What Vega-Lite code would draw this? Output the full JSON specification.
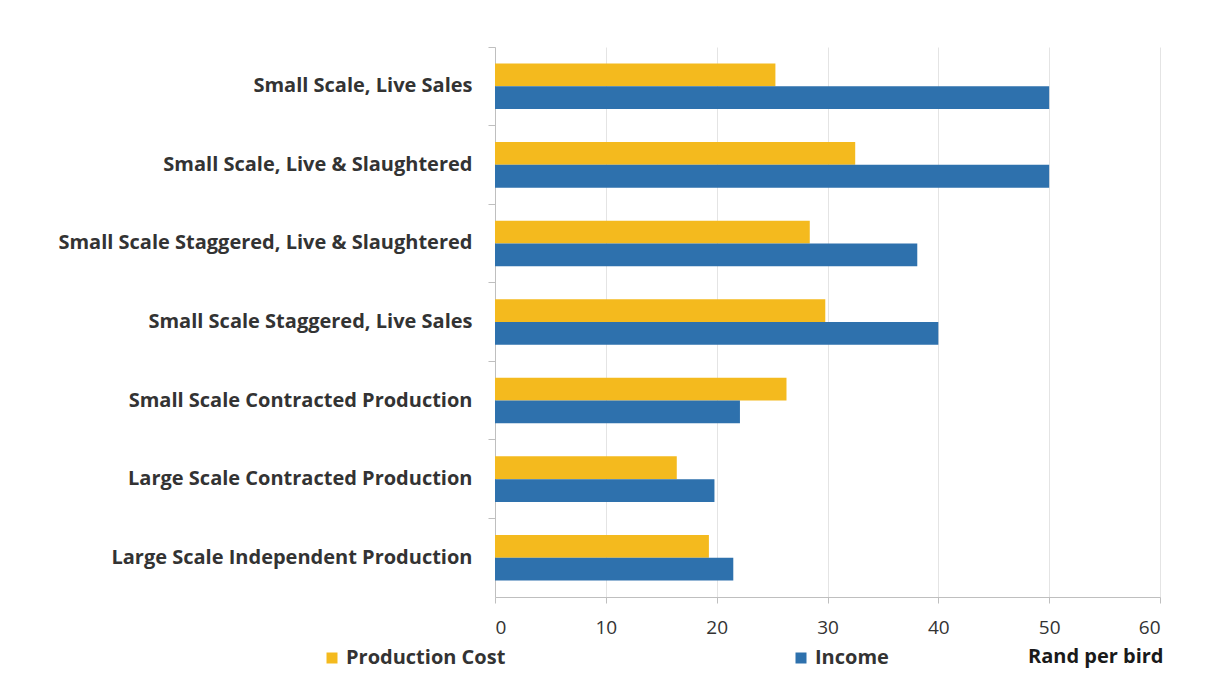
{
  "$schema": "https://vega.github.io/schema/vega-lite/v6.json",
  "width": 665,
  "height": 550,
  "autosize": {"type": "none"},
  "padding": {"left": 495, "top": 47, "right": 57, "bottom": 90},
  "background": "white",
  "data": {"values": [
    {"category": "Small Scale, Live Sales", "series": "Production Cost", "value": 25.3},
    {"category": "Small Scale, Live Sales", "series": "Income", "value": 50},
    {"category": "Small Scale, Live & Slaughtered\u00a0", "series": "Production Cost", "value": 32.5},
    {"category": "Small Scale, Live & Slaughtered\u00a0", "series": "Income", "value": 50},
    {"category": "Small Scale Staggered, Live & Slaughtered", "series": "Production Cost", "value": 28.4},
    {"category": "Small Scale Staggered, Live & Slaughtered", "series": "Income", "value": 38.1},
    {"category": "Small Scale Staggered, Live Sales", "series": "Production Cost", "value": 29.8},
    {"category": "Small Scale Staggered, Live Sales", "series": "Income", "value": 40},
    {"category": "Small Scale Contracted Production", "series": "Production Cost", "value": 26.3},
    {"category": "Small Scale Contracted Production", "series": "Income", "value": 22.1},
    {"category": "Large Scale Contracted Production", "series": "Production Cost", "value": 16.4},
    {"category": "Large Scale Contracted Production", "series": "Income", "value": 19.8},
    {"category": "Large Scale Independent Production", "series": "Production Cost", "value": 19.3},
    {"category": "Large Scale Independent Production", "series": "Income", "value": 21.5}
  ]},
  "mark": {"type": "bar"},
  "encoding": {
    "y": {
      "field": "category", "type": "nominal", "sort": null,
      "scale": {"paddingInner": 0.42, "paddingOuter": 0.21},
      "axis": {
        "title": null, "domainColor": "#bfbfbf", "tickColor": "#bfbfbf", "tickSize": 7,
        "bandPosition": -0.362, "labelFont": "Open Sans", "labelFontWeight": "bold", "labelFontSize": 20,
        "labelColor": "#333333", "labelPadding": 16, "labelLimit": 500
      }
    },
    "yOffset": {"field": "series", "type": "nominal", "sort": ["Production Cost", "Income"], "scale": {"paddingInner": 0}},
    "x": {
      "field": "value", "type": "quantitative",
      "scale": {"domain": [0, 60], "nice": false},
      "axis": {
        "values": [0, 10, 20, 30, 40, 50, 60], "title": "Rand per bird",
        "titleFont": "Open Sans", "titleFontSize": 20, "titleFontWeight": "bold", "titleColor": "#1a1a1a",
        "titleAnchor": "end", "titleAlign": "right", "titleBaseline": "middle", "titleX": 668, "titleY": 59,
        "labelFont": "Open Sans", "labelFontSize": 19, "labelColor": "#333333", "labelPadding": 15,
        "domainColor": "#bfbfbf", "tickColor": "#bfbfbf", "tickSize": 6,
        "grid": true, "gridColor": "#e4e4e4"
      }
    },
    "color": {
      "field": "series", "type": "nominal",
      "scale": {"domain": ["Production Cost", "Income"], "range": ["#F4BA1E", "#2E71AD"]},
      "legend": {
        "title": null, "orient": "none", "legendX": -173, "legendY": 601, "direction": "horizontal",
        "symbolType": "square", "symbolSize": 121, "symbolStrokeWidth": 0, "symbolOpacity": 1,
        "labelFont": "Open Sans", "labelFontWeight": "bold", "labelFontSize": 20, "labelColor": "#333333", "columnPadding": 285
      }
    }
  },
  "config": {"view": {"stroke": null}}
}
